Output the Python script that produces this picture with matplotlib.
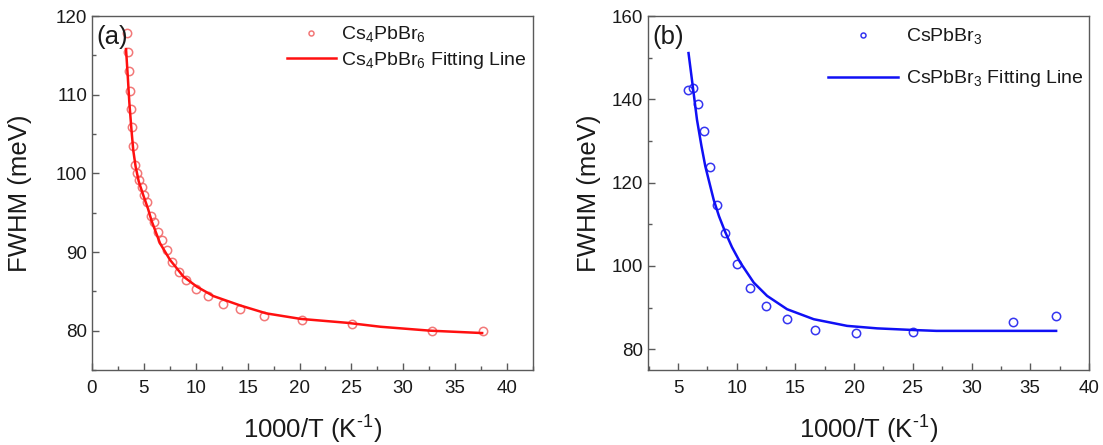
import numpy as np
import matplotlib
matplotlib.use('Agg')
import matplotlib.pyplot as plt
from matplotlib.ticker import MultipleLocator

plt.rcParams['font.family'] = ['Liberation Sans', 'DejaVu Sans']
plt.rcParams['mathtext.fontset'] = 'custom'
plt.rcParams['mathtext.rm'] = 'Liberation Sans'

# (a) Cs4PbBr6 measured FWHM
x_a = [3.38, 3.44, 3.54, 3.66, 3.76, 3.86, 3.98, 4.15, 4.37, 4.56, 4.79, 5.05, 5.34,
       5.69, 5.98, 6.33, 6.72, 7.20, 7.75, 8.39, 9.06, 10.0, 11.2, 12.6, 14.3, 16.6,
       20.2, 25.1, 32.8, 37.7]
y_a = [117.9, 115.4, 113.0, 110.5, 108.2, 105.9, 103.5, 101.1, 100.0, 99.2, 98.3, 97.3, 96.3,
       94.6, 93.8, 92.6, 91.5, 90.3, 88.7, 87.5, 86.4, 85.3, 84.4, 83.4, 82.7, 81.9,
       81.3, 80.9, 80.0, 79.9]
# (a) fitting line
fit_x_a = [3.28, 3.45, 3.60, 3.80, 3.98, 4.20, 4.50, 4.95, 5.40, 5.76, 6.56, 7.52, 8.80,
           10.1, 11.7, 14.3, 16.8, 20.1, 24.6, 27.8, 32.6, 37.6]
fit_y_a = [115.8, 112.3, 109.0, 105.6, 102.9, 100.9, 99.0, 97.2, 95.5, 93.9, 91.1, 89.0, 86.9,
           85.6, 84.4, 83.2, 82.2, 81.5, 81.0, 80.5, 80.0, 79.7]

# (b) CsPbBr3 measured FWHM
x_b = [5.85, 6.28, 6.67, 7.18, 7.70, 8.32, 9.03, 10.03, 11.16, 12.53, 14.29, 16.65,
       20.2, 25.0, 33.5, 37.2]
y_b = [142.3, 142.7, 138.9, 132.5, 123.8, 114.6, 107.8, 100.4, 94.8, 90.4, 87.2, 84.6,
       84.0, 84.1, 86.5, 87.9]
# (b) fitting line
fit_x_b = [5.9, 6.19, 6.62, 7.0, 7.33, 8.04, 8.5, 9.0, 9.6, 10.31, 11.45, 12.59, 14.29,
           16.56, 19.4, 21.96, 25.1, 27.0, 32.0, 37.2]
fit_y_b = [151.1, 144.7, 135.1, 128.8, 123.9, 115.9, 111.9, 108.3, 104.5, 100.8, 96.0, 92.8, 89.6,
           87.2, 85.6, 85.0, 84.6, 84.4, 84.4, 84.4]

spine_col = '#5a5a5a'
txt_col = '#1a1a1a'

fig = plt.figure(figsize=(11.03, 4.45), dpi=100)
ax_a = fig.add_axes([0.0834, 0.1685, 0.3998, 0.7955])
ax_b = fig.add_axes([0.5875, 0.1685, 0.3998, 0.7955])


def style_axis(ax, xlim, ylim, xmaj, ymaj, xmin, ymin, ylab_x):
    ax.set_xlim(*xlim)
    ax.set_ylim(*ylim)
    ax.xaxis.set_major_locator(MultipleLocator(xmaj))
    ax.xaxis.set_minor_locator(MultipleLocator(xmin))
    ax.yaxis.set_major_locator(MultipleLocator(ymaj))
    ax.yaxis.set_minor_locator(MultipleLocator(ymin))
    ax.tick_params(which='both', direction='in', colors=spine_col, labelcolor=txt_col,
                   labelsize=13.5, width=1)
    ax.tick_params(which='major', length=5)
    ax.tick_params(which='minor', length=3)
    ax.tick_params(axis='x', pad=7)
    for s in ax.spines.values():
        s.set_color(spine_col)
        s.set_linewidth(1)
    ax.set_xlabel(r'1000/T (K$^{\text{-1}}$)', fontsize=18.5, color=txt_col)
    ax.set_ylabel('FWHM (meV)', fontsize=18.5, color=txt_col)
    ax.xaxis.set_label_coords(0.5, -0.118)
    ax.yaxis.set_label_coords(ylab_x, 0.5)


# panel (a)
ax_a.plot(x_a, y_a, 'o', ms=6, mfc='none', mec='#f06060', mew=1.1, alpha=0.85,
          label=r'Cs$_4$PbBr$_6$')
ax_a.plot(fit_x_a, fit_y_a, '-', color='#ff1010', lw=1.8,
          label=r'Cs$_4$PbBr$_6$ Fitting Line')
style_axis(ax_a, (0, 42.5), (75, 120), 5, 10, 2.5, 5, -0.136)
ax_a.text(0.01, 0.94, '(a)', transform=ax_a.transAxes, fontsize=18.5, color=txt_col,
          va='center', ha='left')
leg = ax_a.legend(loc='upper left', bbox_to_anchor=(0.442, 0.975), frameon=False,
                  fontsize=14, handlelength=2.5, handletextpad=0.3, labelspacing=0.25,
                  borderpad=0, borderaxespad=0, markerscale=0.6)
for t in leg.get_texts():
    t.set_color(txt_col)

# panel (b)
ax_b.plot(x_b, y_b, 'o', ms=6, mfc='none', mec='#3535f0', mew=1.1,
          label=r'CsPbBr$_3$')
ax_b.plot(fit_x_b, fit_y_b, '-', color='#1010f5', lw=1.8,
          label=r'CsPbBr$_3$ Fitting Line')
style_axis(ax_b, (2.45, 40), (75, 160), 5, 20, 2.5, 10, -0.107)
ax_b.text(0.01, 0.94, '(b)', transform=ax_b.transAxes, fontsize=18.5, color=txt_col,
          va='center', ha='left')
leg = ax_b.legend(loc='upper left', bbox_to_anchor=(0.408, 0.97), frameon=False,
                  fontsize=14, handlelength=3.6, handletextpad=0.4, labelspacing=1.1,
                  borderpad=0, borderaxespad=0, markerscale=0.6)
for t in leg.get_texts():
    t.set_color(txt_col)

fig.savefig('out.png', dpi=100)
